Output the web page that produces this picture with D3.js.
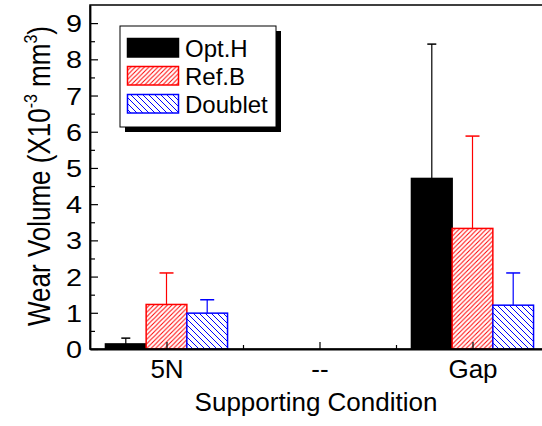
<!DOCTYPE html>
<html>
<head>
<meta charset="utf-8">
<script src="https://cdn.jsdelivr.net/npm/d3@7"></script>
<style>
  body { margin: 0; background: #fff; }
  svg { display: block; font-family: "Liberation Sans", Arial, sans-serif; }
</style>
</head>
<body>
<svg id="chart" width="542" height="426"></svg>
<script>
"use strict";
// categories on the x axis, the middle one has no data
var categories = ["5N", "--", "Gap"];
var seriesNames = ["Opt.H", "Ref.B", "Doublet"];
var optH = [0.14, null, 4.71];
var optHErr = [0.16, null, 3.71];
var refB = [1.23, null, 3.33];
var refBErr = [0.87, null, 2.55];
var doublet = [0.99, null, 1.21];
var doubletErr = [0.37, null, 0.89];
var yTicks = [0, 1, 2, 3, 4, 5, 6, 7, 8, 9];
var yMinor = [0.5, 1.5, 2.5, 3.5, 4.5, 5.5, 6.5, 7.5, 8.5];

var svg = d3.select("#chart");
var plotLeft = 90, plotRight = 549, plotTop = 5, plotBottom = 349;

var x = d3.scaleLinear().domain([-0.5, 2.5]).range([plotLeft, plotRight]);
var y = d3.scaleLinear().domain([0, 9.5]).range([plotBottom, plotTop]);
var barW = 0.266; // in category units

var series = [
  { name: seriesNames[0], values: optH, errs: optHErr, color: "#000", fill: "#000", cap: 9 },
  { name: seriesNames[1], values: refB, errs: refBErr, color: "#ff0000", fill: "url(#hatchRed)", cap: 14 },
  { name: seriesNames[2], values: doublet, errs: doubletErr, color: "#0000ff", fill: "url(#hatchBlue)", cap: 14 }
];

// hatch patterns
var defs = svg.append("defs");
function hatch(id, color, size, forward) {
  var p = defs.append("pattern")
      .attr("id", id)
      .attr("patternUnits", "userSpaceOnUse")
      .attr("width", size)
      .attr("height", size);
  p.append("rect").attr("width", size).attr("height", size).attr("fill", "#fff");
  var d = forward
    ? "M0," + size + "L" + size + ",0M-1,1L1,-1M" + (size - 1) + "," + (size + 1) + "L" + (size + 1) + "," + (size - 1)
    : "M0,0L" + size + "," + size + "M-1," + (size - 1) + "L1," + (size + 1) + "M" + (size - 1) + ",-1L" + (size + 1) + ",1";
  p.append("path").attr("d", d).attr("stroke", color).attr("stroke-width", 1);
}
hatch("hatchRed", "#ff0000", 4.5, true);
hatch("hatchBlue", "#0000ff", 6, false);

// bars
series.forEach(function (s, si) {
  var g = svg.append("g");
  categories.forEach(function (c, ci) {
    var v = s.values[ci];
    if (v === null) { return; }
    var x0 = x(ci + (si - 1.5) * barW);
    var x1 = x(ci + (si - 0.5) * barW);
    g.append("rect")
      .attr("x", x0)
      .attr("y", y(v))
      .attr("width", x1 - x0)
      .attr("height", y(0) - y(v))
      .attr("fill", s.fill)
      .attr("stroke", s.color)
      .attr("stroke-width", 1.5);
    // error bar, upper half only
    var cx = (x0 + x1) / 2;
    var ye = y(v + s.errs[ci]);
    g.append("line")
      .attr("x1", cx).attr("x2", cx)
      .attr("y1", y(v)).attr("y2", ye)
      .attr("stroke", s.color).attr("stroke-width", 1.2);
    g.append("line")
      .attr("x1", cx - s.cap / 2).attr("x2", cx + s.cap / 2)
      .attr("y1", ye).attr("y2", ye)
      .attr("stroke", s.color).attr("stroke-width", 1.5);
  });
});

// frame (right side falls outside the picture)
svg.append("rect")
  .attr("x", plotLeft).attr("y", plotTop)
  .attr("width", plotRight - plotLeft).attr("height", plotBottom - plotTop)
  .attr("fill", "none").attr("stroke", "#000").attr("stroke-width", 1.5);

// y axis
var yAxis = svg.append("g")
  .attr("transform", "translate(" + plotLeft + ",0)")
  .call(d3.axisLeft(y).tickValues(yTicks).tickFormat(d3.format("d")).tickSizeInner(-8).tickSizeOuter(0));
yAxis.select(".domain").attr("stroke-width", 1.8);
yAxis.selectAll(".tick line").attr("stroke-width", 1.2);
yAxis.selectAll("text")
  .attr("x", null).attr("dy", null)
  .attr("font-size", 23)
  .attr("fill", "#000")
  .attr("font-family", "Liberation Sans, Arial, sans-serif")
  .attr("text-anchor", "end")
  .attr("transform", "translate(-8,8.5) scale(1.25,1)");
svg.append("g")
  .attr("transform", "translate(" + plotLeft + ",0)")
  .call(d3.axisLeft(y).tickValues(yMinor).tickFormat("").tickSizeInner(-5).tickSizeOuter(0))
  .call(function (g) { g.select(".domain").remove(); g.selectAll("line").attr("stroke-width", 1.2); });

// x axis
var xAxis = svg.append("g")
  .attr("transform", "translate(0," + plotBottom + ")")
  .call(d3.axisBottom(x).tickValues([0, 1, 2]).tickFormat(function (d) { return categories[d]; }).tickSizeInner(-7).tickSizeOuter(0));
xAxis.select(".domain").attr("stroke-width", 1.8);
xAxis.selectAll(".tick line").attr("stroke-width", 1.2);
xAxis.selectAll("text")
  .attr("y", 29).attr("dy", null)
  .attr("font-size", 26)
  .attr("fill", "#000")
  .attr("font-family", "Liberation Sans, Arial, sans-serif");
svg.append("g")
  .attr("transform", "translate(0," + plotBottom + ")")
  .call(d3.axisBottom(x).tickValues([0.5, 1.5]).tickFormat("").tickSizeInner(-4).tickSizeOuter(0))
  .call(function (g) { g.select(".domain").remove(); g.selectAll("line").attr("stroke-width", 1.2); });

// axis titles
svg.append("text")
  .attr("x", 316).attr("y", 411)
  .attr("text-anchor", "middle")
  .attr("font-size", 26)
  .text("Supporting Condition");

var yTitle = svg.append("text")
  .attr("transform", "translate(50,176) rotate(-90) scale(1,1.2)")
  .attr("text-anchor", "middle")
  .attr("font-size", 26);
yTitle.append("tspan").text("Wear Volume (X10");
yTitle.append("tspan").attr("font-size", 16).attr("dy", -11).text("-3");
yTitle.append("tspan").attr("dy", 11).text(" mm");
yTitle.append("tspan").attr("font-size", 16).attr("dy", -11).text("3");
yTitle.append("tspan").attr("dy", 11).text(")");

// legend with drop shadow
var lg = svg.append("g");
lg.append("rect").attr("x", 125).attr("y", 31).attr("width", 156).attr("height", 101).attr("fill", "#000");
lg.append("rect").attr("x", 120).attr("y", 26).attr("width", 156).attr("height", 101)
  .attr("fill", "#fff").attr("stroke", "#000").attr("stroke-width", 1);
series.forEach(function (s, i) {
  var ry = 38.5 + i * 28;
  lg.append("rect")
    .attr("x", 127.5).attr("y", ry).attr("width", 51).attr("height", 18.5)
    .attr("fill", s.fill).attr("stroke", s.color).attr("stroke-width", 1.5);
  lg.append("text")
    .attr("x", 185).attr("y", ry + 18.5)
    .attr("font-size", 24)
    .text(s.name);
});
</script>
</body>
</html>
